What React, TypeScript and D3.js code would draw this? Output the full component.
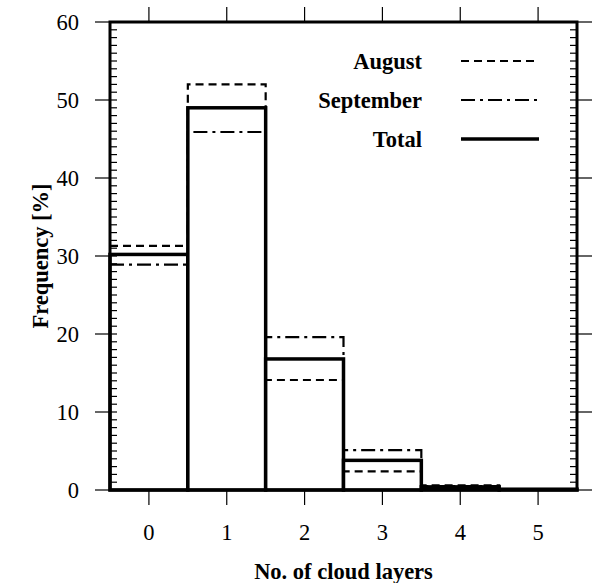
import * as d3 from 'd3';

const categories = [0, 1, 2, 3, 4, 5];
const totalValues = [30.2, 49.0, 16.8, 3.8, 0.4, 0.1];
const augustValues = [31.3, 52.0, 14.1, 2.4, 0.6, 0.0];
const septemberValues = [28.9, 45.9, 19.6, 5.1, 0.5, 0.0];
const yTicks = [0, 10, 20, 30, 40, 50, 60];
const yMinorTicks = d3.range(0, 61, 1);

const W = 595;
const H = 583;
const left = 110;
const right = 577;
const top = 22;
const bottom = 490;
const font = '"Liberation Serif", "Times New Roman", serif';
const fs = 22.5;

export default function App() {
  const x = d3.scaleLinear().domain([-0.5, 5.5]).range([left, right]);
  const y = d3.scaleLinear().domain([0, 60]).range([bottom, top]);

  const stepPath = (vals: number[]) => {
    const p = d3.path();
    p.moveTo(x(-0.5), y(vals[0]));
    vals.forEach((v, i) => {
      p.lineTo(x(i - 0.5), y(v));
      p.lineTo(x(i + 0.5), y(v));
      if (i < vals.length - 1) p.lineTo(x(i + 0.5), y(vals[i + 1]));
    });
    return p.toString();
  };

  const augDash = '8,5';
  const sepDash = '14,5,3,5';

  const legend = [
    { label: 'August', dash: augDash, width: 2.2 },
    { label: 'September', dash: sepDash, width: 2.2 },
    { label: 'Total', dash: null, width: 3.5 },
  ];

  return (
    <svg width={W} height={H} style={{ position: 'absolute', left: 0, top: 0 }}>
      <rect width={W} height={H} fill="#fff" />
      {/* total bars */}
      {categories.map((c, i) => (
        <rect
          key={c}
          x={x(c - 0.5)}
          y={y(totalValues[i])}
          width={x(c + 0.5) - x(c - 0.5)}
          height={bottom - y(totalValues[i])}
          fill="#fff"
          stroke="#000"
          strokeWidth={3.5}
        />
      ))}
      <path d={stepPath(augustValues)} fill="none" stroke="#000" strokeWidth={2.2} strokeDasharray={augDash} />
      <path d={stepPath(septemberValues)} fill="none" stroke="#000" strokeWidth={2.2} strokeDasharray={sepDash} />
      {/* frame */}
      <rect x={left} y={top} width={right - left} height={bottom - top} fill="none" stroke="#000" strokeWidth={3} />
      {/* minor y ticks */}
      {yMinorTicks.map((t) => (
        <g key={t}>
          <line x1={left} x2={left + 7} y1={y(t)} y2={y(t)} stroke="#000" strokeWidth={1.2} />
          <line x1={right - 7} x2={right} y1={y(t)} y2={y(t)} stroke="#000" strokeWidth={1.2} />
        </g>
      ))}
      {/* major y ticks */}
      {yTicks.map((t) => (
        <g key={t}>
          <line x1={left - 15} x2={left} y1={y(t)} y2={y(t)} stroke="#000" strokeWidth={1.2} />
          <line x1={right} x2={right + 15} y1={y(t)} y2={y(t)} stroke="#000" strokeWidth={1.2} />
          <text x={79} y={y(t)} dy="0.35em" textAnchor="end" fontFamily={font} fontSize={fs}>
            {t}
          </text>
        </g>
      ))}
      {/* x ticks */}
      {categories.map((c) => (
        <g key={c}>
          <line x1={x(c)} x2={x(c)} y1={bottom} y2={bottom + 15} stroke="#000" strokeWidth={1.2} />
          <line x1={x(c)} x2={x(c)} y1={top - 15} y2={top} stroke="#000" strokeWidth={1.2} />
          <text x={x(c)} y={532} dy="0.35em" textAnchor="middle" fontFamily={font} fontSize={fs}>
            {c}
          </text>
        </g>
      ))}
      {/* axis titles */}
      <text x={(left + right) / 2} y={571} dy="0.35em" textAnchor="middle" fontFamily={font} fontSize={fs} fontWeight="bold">
        No. of cloud layers
      </text>
      <text
        transform={`translate(40,${(top + bottom) / 2}) rotate(-90)`}
        dy="0.35em"
        textAnchor="middle"
        fontFamily={font}
        fontSize={fs}
        fontWeight="bold"
      >
        Frequency [%]
      </text>
      {/* legend */}
      {legend.map((l, i) => {
        const ly = 61 + i * 39;
        return (
          <g key={l.label}>
            <text x={422} y={ly} dy="0.35em" textAnchor="end" fontFamily={font} fontSize={fs} fontWeight="bold">
              {l.label}
            </text>
            <line
              x1={461}
              x2={539}
              y1={ly}
              y2={ly}
              stroke="#000"
              strokeWidth={l.width}
              strokeDasharray={l.dash ?? undefined}
            />
          </g>
        );
      })}
    </svg>
  );
}
